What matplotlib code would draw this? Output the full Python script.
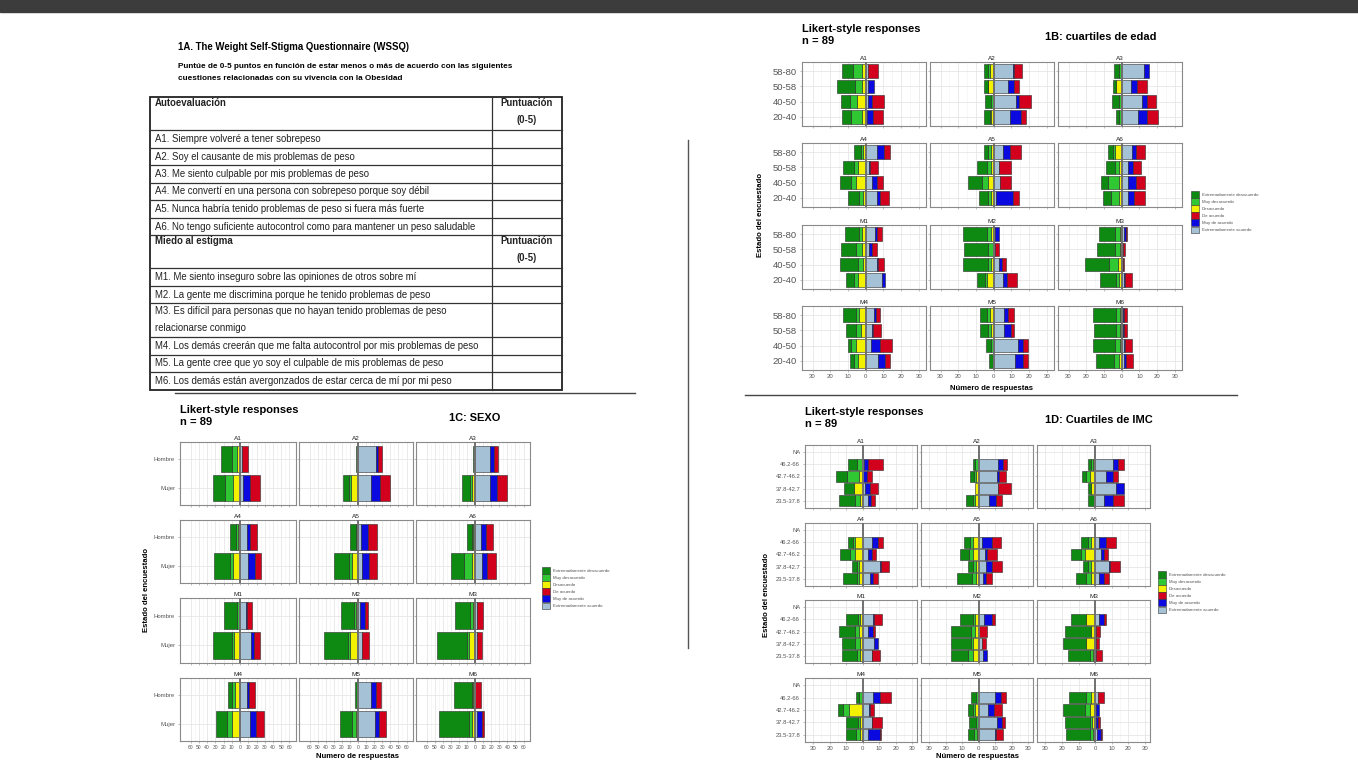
import matplotlib
matplotlib.use("Agg")
import matplotlib.pyplot as plt
from matplotlib.patches import Patch, Rectangle

W, H = 1358, 767
plt.rcParams['font.family'] = ['Liberation Sans', 'DejaVu Sans']

# --- data ---------------------------------------------------------------
cats = ["Extremadamente desacuerdo", "Muy desacuerdo", "Desacuerdo",
        "De acuerdo", "Muy de acuerdo", "Extremadamente acuerdo"]
colors = ["#0e8a12", "#30c832", "#f2f200", "#d2001c", "#0a0ae0", "#a5c1d5"]
items = ["A1", "A2", "A3", "A4", "A5", "A6", "M1", "M2", "M3", "M4", "M5", "M6"]

# each row: [ext. desac, muy desac, desac, de acuerdo, muy de acuerdo, ext. acuerdo]
# rows listed bottom -> top
edad_groups = ["20-40", "40-50", "50-58", "58-80"]
edad = {
    "A1": [[5, 6.5, 2, 6, 3.5, 0.5], [5, 4, 5, 7, 2, 1.5], [10, 4, 2, 0, 3.5, 1], [6.5, 5, 2, 5.5, 0, 1.5]],
    "A2": [[3, 1, 1.3, 2.8, 6.5, 9], [3, 1.5, 0.3, 6.5, 2, 12.5], [2, 0.5, 3, 2.4, 3.7, 8], [2, 1.3, 2, 5, 0.5, 10.7]],
    "A3": [[1.5, 1.3, 0.3, 5.7, 5.5, 9], [4, 1, 0.3, 5, 3, 11.5], [2, 0, 3, 5.5, 3.7, 5], [3, 1, 0.5, 0, 3, 12.5]],
    "A4": [[6.5, 1.8, 1.8, 4.6, 1.8, 6.5], [6.5, 2.8, 5.5, 3.3, 2.8, 3.7], [6.5, 2, 4.6, 4.6, 0.5, 1.8], [3.7, 1, 1.8, 3.7, 3.7, 6.5]],
    "A5": [[5.5, 1.3, 1.8, 3.3, 9.6, 1.1], [8, 3.7, 3, 6.5, 0, 3.3], [5.5, 2.8, 1.3, 6.8, 0, 3], [2.4, 1.3, 1.8, 6.5, 3.7, 5.2]],
    "A6": [[4.6, 4.6, 1.3, 6, 3.7, 3.3], [4.2, 6, 1.8, 5, 4.6, 3.3], [5, 2.8, 1.3, 4.6, 2.8, 3.3], [2.8, 1, 3.7, 4.6, 2.8, 5.5]],
    "M1": [[5, 1.8, 4.6, 0, 1.8, 8.9], [10, 2.8, 1.8, 3.2, 0.5, 6.5], [8.3, 3.3, 2.2, 3.1, 1.5, 1.8], [7.8, 1.5, 2.2, 2.8, 1.3, 5.2]],
    "M2": [[4.6, 1, 4, 5.7, 2.2, 5.2], [14.3, 1.8, 1.3, 2.2, 1.8, 3], [13.9, 2.4, 0.7, 2.2, 0, 0.7], [13.3, 2.2, 1.8, 0, 2.4, 0.5]],
    "M3": [[9, 2, 1.5, 3.5, 1, 1], [14, 5, 2, 1, 0, 0.5], [10, 3, 1, 1.5, 0, 0.5], [9, 3, 1, 0.5, 1.5, 1]],
    "M4": [[2.4, 1.8, 4.6, 2.4, 4, 7], [1.8, 2.8, 5.5, 6.5, 5.5, 2.8], [5.5, 2.8, 2.8, 4.2, 0.5, 3.7], [7.4, 1.8, 3.7, 2, 1.3, 4.6]],
    "M5": [[1.8, 0.7, 0, 3, 4.4, 12.2], [3.3, 1.3, 0, 3.3, 2.8, 13.5], [4.6, 1.8, 1.3, 1.8, 3.7, 6], [4, 1.8, 2.2, 3.7, 1.8, 6]],
    "M6": [[10, 3, 1.5, 4, 1.5, 1], [12, 3, 1, 3.5, 1, 1], [12, 2.5, 1, 1.5, 1, 0.5], [13, 2, 1, 2, 0.5, 0.5]],
}

sexo_groups = ["Mujer", "Hombre"]
sexo = {
    "A1": [[15, 9, 9, 12, 8, 4], [13, 6, 4, 8, 0, 2]],
    "A2": [[7, 2, 9, 12, 11, 16], [2.5, 0, 0, 5, 3, 22]],
    "A3": [[10, 2, 4, 13, 9, 18], [2, 0, 0, 5, 5, 19]],
    "A4": [[20, 3, 9, 7, 8, 10], [7, 2, 3, 9, 3, 9]],
    "A5": [[19, 3, 8, 11, 8, 5], [7, 3, 0, 11, 8, 4]],
    "A6": [[16, 10, 4, 11, 6, 9], [6, 2, 2, 8, 6, 8]],
    "M1": [[23, 3, 7, 7, 4, 13], [15, 3, 1, 5, 2, 7]],
    "M2": [[29, 3, 10, 8, 0, 5], [16, 3, 2, 3, 7, 2]],
    "M3": [[37, 2, 8, 6, 0, 3], [19, 4, 2, 7, 0, 3]],
    "M4": [[13, 6, 10, 10, 7, 12], [5, 4, 6, 7, 3, 8]],
    "M5": [[15, 4, 3, 9, 5, 21], [4, 0, 0, 7, 6, 16]],
    "M6": [[37, 4, 4, 2, 7, 2], [22, 2, 2, 7, 0, 0]],
}

imc_groups = ["23.5-37.8", "37.8-42.7", "42.7-46.2", "46.2-66", "NA"]
imc = {
    "A1": [[9.5, 3, 1.6, 2.6, 1.4, 3.4], [6, 0, 5.5, 5, 3, 1.5], [6.5, 7, 2.5, 3, 2, 0.5], [5, 3, 0.6, 9, 2.5, 1], None],
    "A2": [[4, 1.6, 2, 3.2, 4.8, 6], [0, 0, 2, 7.4, 0, 12], [2, 1.5, 1.5, 4, 1, 11.4], [1.5, 1.5, 0.5, 3, 2.5, 12], None],
    "A3": [[4, 0.4, 0, 7, 5, 5.6], [2, 0, 2.4, 0, 5, 12.6], [2.4, 2, 3.4, 3, 4, 6.6], [2, 1, 1.4, 4, 3, 10.6], None],
    "A4": [[8.4, 1.6, 2, 3, 2, 4.4], [3, 1.6, 2, 5, 0.5, 10.4], [6, 3, 4.6, 3, 2, 3.4], [3.4, 1, 4.6, 3, 4, 5.4], None],
    "A5": [[9.2, 2.4, 1.6, 4, 2, 2.4], [3.4, 1.6, 1.6, 6, 4, 4.4], [5.6, 2.4, 3.2, 6, 1, 4], [3.4, 1.6, 3.6, 5, 6.4, 2], None],
    "A6": [[6, 3, 2.4, 3, 3, 2.6], [3, 2, 2.4, 6, 0.5, 8.6], [6, 2, 6.4, 2, 2, 3.6], [4, 2, 2.4, 6, 4, 2.6], None],
    "M1": [[9, 2, 1.6, 4.6, 0.5, 5.4], [8, 3, 1.6, 0, 2.6, 6.8], [10, 2.6, 2, 1.4, 2.6, 3.4], [7.4, 1, 1.6, 5, 0.5, 6.4], None],
    "M2": [[10, 3, 3.6, 0, 2.4, 2.4], [12, 1, 3.6, 2.4, 0, 2], [12, 2.6, 2, 4.4, 0, 0.5], [8, 1.6, 2, 1.6, 5, 3.4], None],
    "M3": [[13, 2, 1.4, 3.6, 0, 0.5], [14, 0, 5.4, 1.6, 0, 0.5], [16, 0, 2.4, 2.6, 0, 0.5], [9, 0, 5.4, 1, 3, 2.6], None],
    "M4": [[6, 2.4, 1.6, 1, 7, 3.4], [7.4, 1, 1.6, 6, 0.5, 5.4], [3.2, 4, 8, 2.4, 0.5, 4], [2, 2, 0, 7, 4, 6.4], None],
    "M5": [[4, 1.4, 1.2, 4.4, 0.5, 10], [4, 1.6, 0, 1.6, 3, 11.4], [3, 1.6, 2, 5, 4, 5.4], [3, 1.6, 0, 3.4, 3.4, 10], None],
    "M6": [[14, 2, 1.4, 0.5, 2.6, 1], [15, 1.6, 1.8, 1, 1.5, 0.5], [13, 3, 3.4, 0, 2, 0.5], [10.4, 3, 2.4, 4, 0, 1.6], None],
}

table_auto = ["A1. Siempre volveré a tener sobrepeso",
              "A2. Soy el causante de mis problemas de peso",
              "A3. Me siento culpable por mis problemas de peso",
              "A4. Me convertí en una persona con sobrepeso porque soy débil",
              "A5. Nunca habría tenido problemas de peso si fuera más fuerte",
              "A6. No tengo suficiente autocontrol como para mantener un peso saludable"]
table_miedo = ["M1. Me siento inseguro sobre las opiniones de otros sobre mí",
               "M2. La gente me discrimina porque he tenido problemas de peso",
               "M3. Es difícil para personas que no hayan tenido problemas de peso\nrelacionarse conmigo",
               "M4. Los demás creerán que me falta autocontrol por mis problemas de peso",
               "M5. La gente cree que yo soy el culpable de mis problemas de peso",
               "M6. Los demás están avergonzados de estar cerca de mí por mi peso"]

fig = plt.figure(figsize=(W / 100, H / 100), dpi=100)
fig.patch.set_facecolor("white")

# overlay in pixel coordinates for page furniture
ov = fig.add_axes([0, 0, 1, 1], zorder=-1)
ov.set_xlim(0, W)
ov.set_ylim(H, 0)
ov.axis("off")
ov.add_patch(Rectangle((0, 0), W, 12, color="#3c3c3c"))

# --- 1A table -------------------------------------------------------------
ov.text(178, 47, "1A. The Weight Self-Stigma Questionnaire (WSSQ)", fontsize=6.9,
        fontweight="bold", va="center")
ov.text(178, 67, "Puntúe de 0-5 puntos en función de estar menos o más de acuerdo con las siguientes",
        fontsize=5.9, fontweight="bold", va="center")
ov.text(178, 79, "cuestiones relacionadas con su vivencia con la Obesidad",
        fontsize=5.9, fontweight="bold", va="center")

tx0, tx1, tsplit = 150, 562, 492
bounds = [97, 130, 148, 165, 183, 200, 218, 235, 268, 286, 303, 337, 355, 372, 390]
tfs = 6.9
ov.add_patch(Rectangle((tx0, bounds[0]), tx1 - tx0, bounds[-1] - bounds[0],
                       fill=False, ec="#222222", lw=1.3))
for b in bounds[1:-1]:
    ov.plot([tx0, tx1], [b, b], color="#333333", lw=0.9)
ov.plot([tsplit, tsplit], [bounds[0], bounds[-1]], color="#333333", lw=0.9)


def header(y0, label):
    ov.text(tx0 + 5, y0 + 6, label, fontsize=tfs, fontweight="bold", va="center", color="#222222")
    ov.text((tsplit + tx1) / 2, y0 + 6, "Puntuación", fontsize=tfs, fontweight="bold",
            va="center", ha="center", color="#222222")
    ov.text((tsplit + tx1) / 2, y0 + 23, "(0-5)", fontsize=tfs, fontweight="bold",
            va="center", ha="center", color="#222222")


header(bounds[0], "Autoevaluación")
for i, t in enumerate(table_auto):
    ov.text(tx0 + 5, (bounds[1 + i] + bounds[2 + i]) / 2, t, fontsize=tfs, va="center", color="#222222")
header(bounds[7], "Miedo al estigma")
for i, t in enumerate(table_miedo):
    y0, y1 = bounds[8 + i], bounds[9 + i]
    if "\n" in t:
        a, b = t.split("\n")
        ov.text(tx0 + 5, y0 + 8, a, fontsize=tfs, va="center", color="#222222")
        ov.text(tx0 + 5, y0 + 25, b, fontsize=tfs, va="center", color="#222222")
    else:
        ov.text(tx0 + 5, (y0 + y1) / 2, t, fontsize=tfs, va="center", color="#222222")

# separators
ov.plot([175, 635], [393, 393], color="#444444", lw=1.0)
ov.plot([688, 688], [140, 648], color="#555555", lw=1.0)
ov.plot([745, 1237], [395, 395], color="#444444", lw=1.0)


# --- likert panels --------------------------------------------------------
def panel_axes(x0, y0, x1, y1):
    return fig.add_axes([x0 / W, 1 - y1 / H, (x1 - x0) / W, (y1 - y0) / H])


def likert(ax, rows):
    for i, r in enumerate(rows):
        if r is None:
            continue
        y = i + 1
        ed, md, d, da, ma, ea = r
        left = 0
        for v, c in [(d, colors[2]), (md, colors[1]), (ed, colors[0])]:
            if v > 0:
                ax.barh(y, -v, left=left, height=0.9, color=c, edgecolor="#2a2a2a", lw=0.4, zorder=2)
            left -= v
        left = 0
        for v, c in [(ea, colors[5]), (ma, colors[4]), (da, colors[3])]:
            if v > 0:
                ax.barh(y, v, left=left, height=0.9, color=c, edgecolor="#2a2a2a", lw=0.4, zorder=2)
            left += v
    ax.axvline(0, color="#707070", lw=1.4, zorder=3)


def draw_grid(data, groups, cols, rows, xlim, xticks, yfs, xfs):
    for k, item in enumerate(items):
        r, c = divmod(k, 3)
        ax = panel_axes(cols[c][0], rows[r][0], cols[c][1], rows[r][1])
        likert(ax, data[item])
        ax.set_xlim(*xlim)
        ax.set_ylim(0.4, len(groups) + 0.6)
        ax.set_xticks(xticks)
        ax.set_xticks([t + (xticks[1] - xticks[0]) / 2 for t in xticks[:-1]], minor=True)
        ax.set_yticks(range(1, len(groups) + 1))
        ax.grid(True, which="major", color="#e6e6e6", lw=0.6, zorder=0)
        ax.grid(True, which="minor", axis="x", color="#f2f2f2", lw=0.4, zorder=0)
        ax.set_axisbelow(True)
        for s in ax.spines.values():
            s.set_color("#8a8a8a")
            s.set_linewidth(0.8)
        ax.tick_params(length=1.5, width=0.4, color="#8a8a8a", pad=2, which="both")
        ax.tick_params(which="minor", length=0)
        if c == 0:
            ax.set_yticklabels(groups, fontsize=yfs, color="#555555")
        else:
            ax.set_yticklabels([])
        if r == 3:
            ax.set_xticklabels([str(abs(t)) for t in xticks], fontsize=xfs, color="#555555")
            ax.tick_params(axis="x", pad=1.5)
        else:
            ax.set_xticklabels([])
        ax.set_title(item, fontsize=4.6, pad=1.2, color="#222222")


def legend(x, y):
    handles = [Patch(facecolor=col, edgecolor="#333333", lw=0.4, label=lab)
               for col, lab in zip(colors, cats)]
    fig.legend(handles=handles, loc="upper left", bbox_to_anchor=(x / W, 1 - y / H),
               frameon=False, fontsize=3.2, handlelength=1.9, handleheight=1.9,
               labelspacing=0.12, handletextpad=0.6, borderaxespad=0, borderpad=0,
               labelcolor="#555555")


def headings(x, y, tag, tx):
    ov.text(x, y, "Likert-style responses", fontsize=8, fontweight="bold", va="center")
    ov.text(x, y + 12, "n = 89", fontsize=8, fontweight="bold", va="center")
    ov.text(tx, y + 8, tag, fontsize=7.9, fontweight="bold", va="center")


# 1B: edad
headings(802, 29, "1B: cuartiles de edad", 1045)
draw_grid(edad, edad_groups,
          [(802, 926), (930, 1054), (1058, 1182)],
          [(62, 126), (143, 207), (225, 289), (306, 370)],
          (-36, 34), [-30, -20, -10, 0, 10, 20, 30], 6.8, 4.3)
ov.text(992, 388, "Número de respuestas", fontsize=5.6, fontweight="bold", ha="center", va="center")
ov.text(761, 215, "Estado del encuestado", fontsize=5.6, fontweight="bold", ha="center",
        va="center", rotation=90)
legend(1191, 191)

# 1C: sexo
headings(180, 410, "1C: SEXO", 449)
draw_grid(sexo, sexo_groups,
          [(180, 296), (299, 413), (416, 530)],
          [(442, 505), (520, 583), (598, 663), (678, 741)],
          (-73, 68), list(range(-60, 61, 10)), 4.3, 3.6)
ov.text(357, 756, "Numero de respuestas", fontsize=5.6, fontweight="bold", ha="center", va="center")
ov.text(147, 590, "Estado del encuestado", fontsize=5.6, fontweight="bold", ha="center",
        va="center", rotation=90)
legend(542, 567)

# 1D: imc
headings(805, 412, "1D: Cuartiles de IMC", 1045)
draw_grid(imc, imc_groups,
          [(805, 917), (921, 1033), (1037, 1150)],
          [(445, 508), (523, 586), (600, 663), (678, 742)],
          (-35, 33), [-30, -20, -10, 0, 10, 20, 30], 4.2, 4.3)
ov.text(977, 756, "Número de respuestas", fontsize=5.6, fontweight="bold", ha="center", va="center")
ov.text(767, 595, "Estado del encuestado", fontsize=5.6, fontweight="bold", ha="center",
        va="center", rotation=90)
legend(1158, 571)

fig.savefig("out.png", dpi=100)
